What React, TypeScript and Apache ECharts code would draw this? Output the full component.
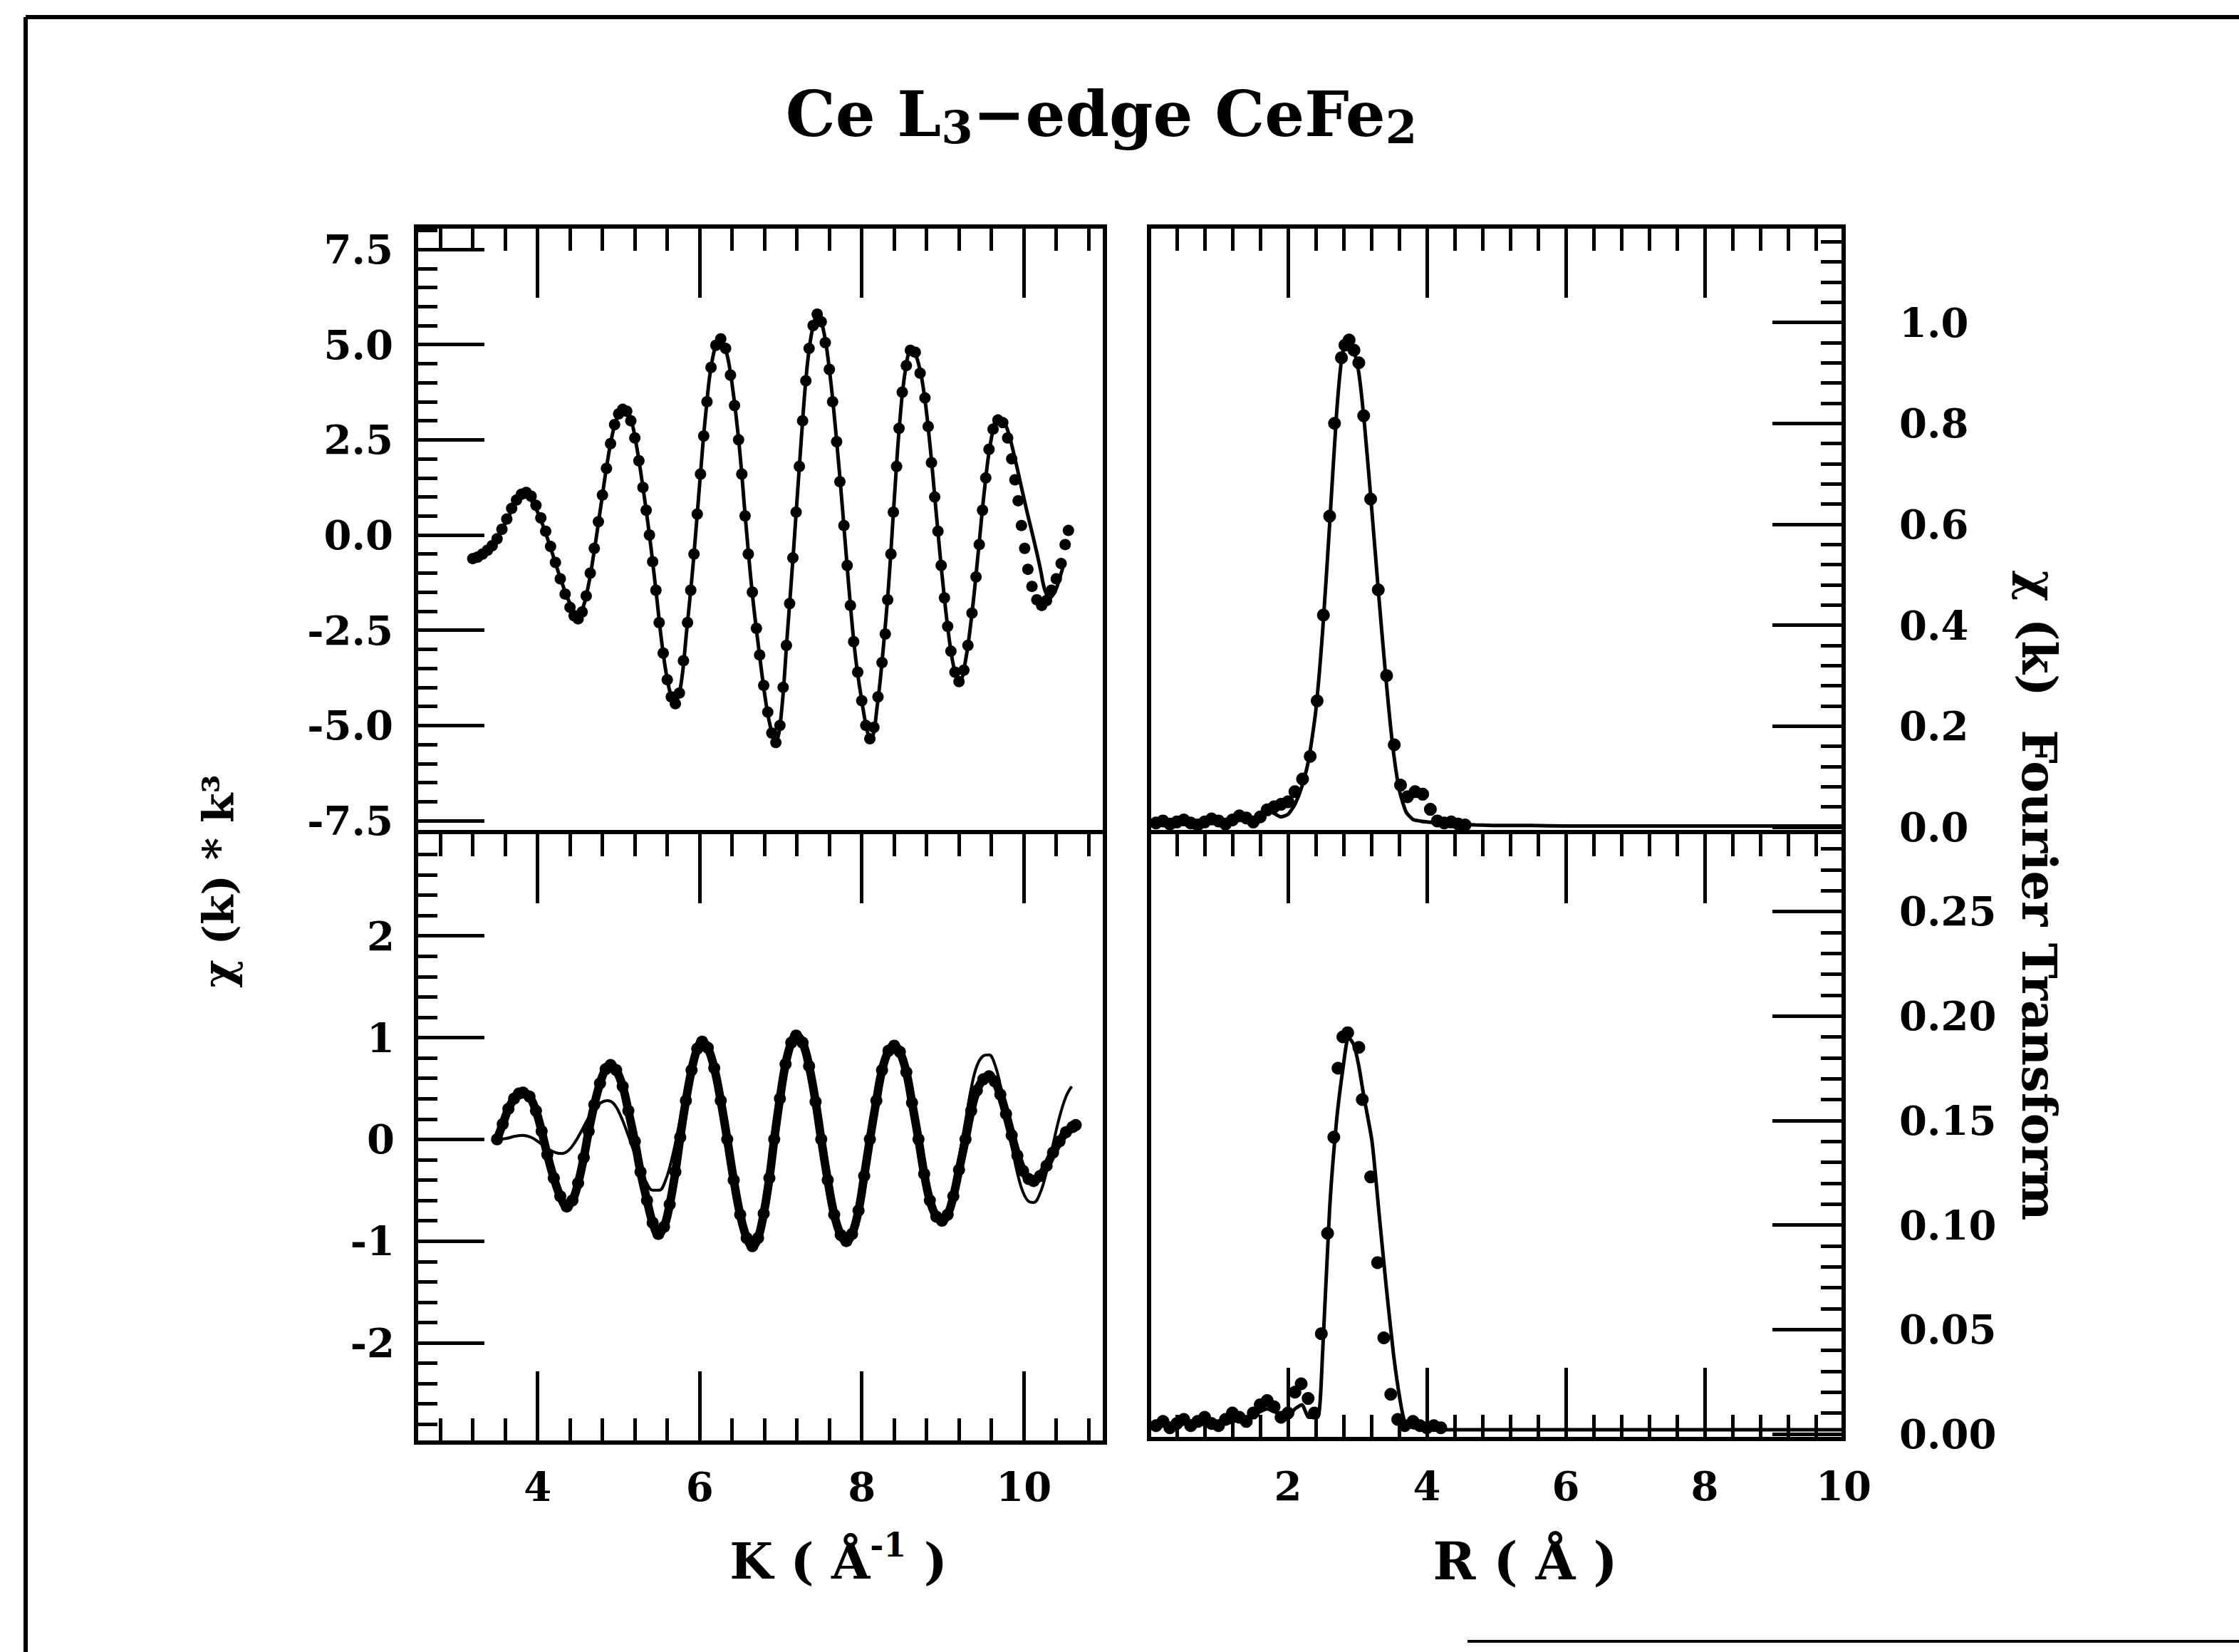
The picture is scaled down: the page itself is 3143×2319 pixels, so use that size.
import React, { useEffect, useRef } from 'react';
import * as echarts from 'echarts';

const W = 3143;
const H = 2319;
const FONT = 'DejaVu Serif';

// ---------- Upper-left: chi(k)*k^3 (dots = data, line = fit) ----------
const ulData: [number, number][] = [
  [3.2,-0.62],[3.26,-0.58],[3.32,-0.5],[3.38,-0.4],[3.44,-0.28],[3.5,-0.1],[3.56,0.15],[3.62,0.42],[3.68,0.7],[3.74,0.92],
  [3.8,1.07],[3.86,1.12],[3.92,1.02],[3.98,0.78],[4.04,0.45],[4.1,0.1],[4.16,-0.3],[4.22,-0.72],[4.28,-1.15],[4.34,-1.55],
  [4.4,-1.9],[4.45,-2.12],[4.5,-2.2],[4.55,-2.02],[4.6,-1.6],[4.65,-1.0],[4.7,-0.35],[4.75,0.35],[4.8,1.05],[4.85,1.75],
  [4.9,2.4],[4.95,2.9],[5.0,3.18],[5.05,3.3],[5.1,3.25],[5.15,3.0],[5.2,2.55],[5.25,1.95],[5.3,1.25],[5.34,0.65],
  [5.38,0.0],[5.42,-0.7],[5.46,-1.45],[5.5,-2.3],[5.55,-3.1],[5.6,-3.8],[5.65,-4.25],[5.7,-4.43],[5.75,-4.15],[5.8,-3.3],
  [5.85,-2.3],[5.89,-1.45],[5.93,-0.5],[5.97,0.55],[6.01,1.6],[6.05,2.6],[6.09,3.5],[6.14,4.4],[6.2,4.98],[6.26,5.15],
  [6.32,4.9],[6.38,4.2],[6.43,3.4],[6.48,2.5],[6.52,1.6],[6.56,0.5],[6.6,-0.5],[6.65,-1.5],[6.7,-2.45],[6.74,-3.15],
  [6.79,-3.95],[6.84,-4.65],[6.89,-5.2],[6.94,-5.45],[6.99,-5.0],[7.03,-4.0],[7.07,-2.9],[7.11,-1.8],[7.15,-0.6],[7.19,0.6],
  [7.23,1.8],[7.27,3.0],[7.31,4.05],[7.35,4.9],[7.4,5.5],[7.45,5.8],[7.5,5.6],[7.55,5.05],[7.6,4.35],[7.64,3.5],
  [7.69,2.45],[7.73,1.4],[7.78,0.25],[7.82,-0.8],[7.86,-1.85],[7.9,-2.8],[7.95,-3.6],[8.0,-4.35],[8.05,-5.0],[8.1,-5.35],
  [8.15,-5.05],[8.2,-4.25],[8.25,-3.35],[8.29,-2.6],[8.32,-1.7],[8.36,-0.5],[8.39,0.6],[8.43,1.8],[8.46,2.8],[8.5,3.75],
  [8.55,4.45],[8.6,4.85],[8.66,4.8],[8.72,4.25],[8.78,3.6],[8.82,2.85],[8.86,1.9],[8.9,1.0],[8.94,0.1],[8.98,-0.8],
  [9.02,-1.65],[9.06,-2.4],[9.1,-3.05],[9.15,-3.6],[9.2,-3.85],[9.26,-3.55],[9.31,-2.9],[9.36,-2.05],[9.41,-1.1],[9.45,-0.25],
  [9.49,0.65],[9.53,1.5],[9.57,2.25],[9.62,2.78],[9.68,3.02],[9.74,2.95],[9.8,2.55],[9.85,2.0],[9.89,1.45],[9.93,0.9],
  [9.97,0.25],[10.01,-0.35],[10.05,-0.9],[10.1,-1.35],[10.16,-1.7],[10.22,-1.85],[10.28,-1.72],[10.34,-1.45],[10.4,-1.15],[10.46,-0.75],
  [10.51,-0.25],[10.55,0.12],
];
const ulFit: [number, number][] = [
  [3.3,-0.45],[3.4,-0.3],[3.5,-0.08],[3.6,0.3],[3.7,0.72],[3.78,0.95],[3.86,1.0],[3.94,0.85],[4.02,0.5],[4.1,0.05],
  [4.2,-0.6],[4.3,-1.25],[4.4,-1.8],[4.48,-2.05],[4.55,-1.95],[4.62,-1.4],[4.7,-0.4],[4.78,0.75],[4.86,1.9],[4.94,2.8],
  [5.02,3.25],[5.08,3.3],[5.15,3.05],[5.22,2.35],[5.3,1.25],[5.38,0.0],[5.46,-1.45],[5.54,-2.95],[5.62,-4.0],[5.69,-4.4],
  [5.76,-4.05],[5.84,-2.5],[5.92,-0.75],[6.0,1.35],[6.08,3.3],[6.16,4.65],[6.25,5.12],[6.33,4.8],[6.41,3.8],[6.49,2.3],
  [6.57,0.3],[6.65,-1.55],[6.73,-3.0],[6.81,-4.3],[6.88,-5.1],[6.94,-5.4],[7.0,-4.85],[7.08,-2.65],[7.16,-0.35],[7.24,2.1],
  [7.32,4.3],[7.39,5.4],[7.45,5.75],[7.52,5.45],[7.6,4.35],[7.68,2.7],[7.76,0.75],[7.84,-1.35],[7.92,-3.15],[8.0,-4.35],
  [8.08,-5.25],[8.12,-5.3],[8.19,-4.5],[8.26,-3.1],[8.33,-1.35],[8.4,0.9],[8.47,3.0],[8.54,4.35],[8.61,4.85],[8.68,4.65],
  [8.76,3.85],[8.84,2.4],[8.92,0.55],[9.0,-1.25],[9.08,-2.75],[9.15,-3.6],[9.21,-3.82],[9.28,-3.3],[9.36,-2.05],[9.44,-0.4],
  [9.52,1.3],[9.6,2.55],[9.68,3.05],[9.74,3.0],[9.8,2.75],[9.88,2.1],[9.96,1.35],[10.04,0.6],[10.12,-0.1],[10.2,-0.85],
  [10.26,-1.45],[10.32,-1.65],[10.38,-1.5],[10.44,-1.15],[10.5,-0.7],
];

// ---------- Lower-left: back-transformed first shell ----------
const llData: [number, number][] = [
  [3.5,0.0],[3.57,0.15],[3.64,0.3],[3.71,0.4],[3.77,0.45],[3.82,0.46],[3.9,0.42],[3.98,0.28],[4.05,0.08],[4.12,-0.15],
  [4.2,-0.38],[4.28,-0.56],[4.36,-0.66],[4.43,-0.6],[4.5,-0.43],[4.57,-0.18],[4.63,0.08],[4.7,0.34],[4.77,0.55],[4.84,0.69],
  [4.9,0.73],[4.97,0.68],[5.05,0.52],[5.12,0.28],[5.2,-0.02],[5.27,-0.32],[5.35,-0.6],[5.42,-0.82],[5.49,-0.93],[5.56,-0.86],
  [5.63,-0.64],[5.7,-0.32],[5.76,0.02],[5.83,0.38],[5.9,0.68],[5.97,0.89],[6.03,0.96],[6.1,0.9],[6.18,0.7],[6.26,0.38],
  [6.34,0.0],[6.42,-0.4],[6.5,-0.74],[6.58,-0.97],[6.65,-1.05],[6.72,-0.97],[6.79,-0.73],[6.86,-0.38],[6.92,0.0],[6.99,0.4],
  [7.06,0.74],[7.13,0.95],[7.19,1.02],[7.27,0.95],[7.35,0.72],[7.43,0.37],[7.5,0.0],[7.58,-0.4],[7.66,-0.74],[7.74,-0.94],
  [7.81,-1.0],[7.88,-0.93],[7.96,-0.7],[8.03,-0.36],[8.1,0.0],[8.18,0.38],[8.25,0.68],[8.33,0.87],[8.4,0.92],[8.47,0.86],
  [8.55,0.66],[8.62,0.36],[8.7,0.0],[8.77,-0.34],[8.84,-0.6],[8.92,-0.76],[8.99,-0.8],[9.06,-0.74],[9.13,-0.56],[9.2,-0.3],
  [9.28,0.0],[9.35,0.28],[9.42,0.48],[9.5,0.59],[9.57,0.62],[9.64,0.57],[9.71,0.44],[9.78,0.25],[9.85,0.04],[9.92,-0.16],
  [9.99,-0.31],[10.06,-0.39],[10.12,-0.41],[10.2,-0.36],[10.28,-0.26],[10.36,-0.13],[10.44,-0.02],[10.52,0.07],[10.6,0.12],[10.64,0.14],
];
const llFit: [number, number][] = [
  [3.52,0.0],[3.62,0.01],[3.72,0.03],[3.82,0.04],[3.92,0.02],[4.02,-0.03],[4.12,-0.09],[4.22,-0.13],[4.3,-0.14],[4.38,-0.11],
  [4.46,-0.03],[4.54,0.08],[4.62,0.2],[4.7,0.3],[4.78,0.36],[4.86,0.38],[4.94,0.35],[5.02,0.24],[5.1,0.08],[5.18,-0.1],
  [5.26,-0.28],[5.34,-0.42],[5.42,-0.5],[5.5,-0.5],[5.58,-0.4],[5.66,-0.18],[5.74,0.12],[5.82,0.45],[5.9,0.74],[5.97,0.9],
  [6.03,0.95],[6.1,0.9],[6.18,0.7],[6.26,0.38],[6.34,0.0],[6.42,-0.4],[6.5,-0.74],[6.58,-0.97],[6.65,-1.05],[6.72,-0.97],
  [6.79,-0.73],[6.86,-0.38],[6.92,0.0],[6.99,0.4],[7.06,0.74],[7.13,0.95],[7.19,1.02],[7.27,0.95],[7.35,0.72],[7.43,0.37],
  [7.5,0.0],[7.58,-0.4],[7.66,-0.74],[7.74,-0.94],[7.81,-1.0],[7.88,-0.93],[7.96,-0.7],[8.03,-0.36],[8.1,0.0],[8.18,0.38],
  [8.25,0.68],[8.33,0.87],[8.4,0.92],[8.47,0.86],[8.55,0.66],[8.62,0.36],[8.7,0.0],[8.77,-0.34],[8.84,-0.6],[8.92,-0.76],
  [8.99,-0.8],[9.06,-0.72],[9.13,-0.5],[9.2,-0.18],[9.28,0.18],[9.35,0.5],[9.42,0.72],[9.5,0.82],[9.57,0.83],[9.64,0.74],
  [9.71,0.53],[9.78,0.24],[9.85,-0.06],[9.92,-0.33],[9.99,-0.52],[10.06,-0.61],[10.12,-0.62],[10.2,-0.53],[10.28,-0.32],[10.36,-0.05],
  [10.44,0.22],[10.52,0.42],[10.59,0.52],
];

// ---------- Upper-right: Fourier transform magnitude ----------
const urData: [number, number][] = [
  [0.1,0.008],[0.2,0.012],[0.3,0.006],[0.4,0.01],[0.5,0.014],[0.6,0.008],[0.7,0.004],[0.8,0.01],[0.9,0.016],[1.0,0.012],
  [1.1,0.006],[1.2,0.014],[1.3,0.022],[1.4,0.018],[1.5,0.01],[1.6,0.02],[1.7,0.034],[1.8,0.04],[1.9,0.045],[2.0,0.05],
  [2.1,0.07],[2.21,0.095],[2.32,0.14],[2.42,0.25],[2.51,0.42],[2.6,0.616],[2.67,0.8],[2.77,0.93],[2.82,0.955],[2.88,0.965],
  [2.95,0.945],[3.02,0.92],[3.09,0.815],[3.19,0.65],[3.3,0.47],[3.42,0.3],[3.53,0.163],[3.62,0.083],[3.72,0.06],[3.83,0.07],
  [3.94,0.065],[4.05,0.035],[4.15,0.012],[4.25,0.008],[4.35,0.01],[4.45,0.006],[4.55,0.004],
];
const urFit: [number, number][] = [
  [0.1,0.006],[0.25,0.01],[0.4,0.005],[0.55,0.012],[0.7,0.004],[0.85,0.012],[1.0,0.01],[1.15,0.008],[1.3,0.018],[1.45,0.012],
  [1.6,0.02],[1.75,0.03],[1.9,0.02],[2.0,0.025],[2.1,0.045],[2.2,0.08],[2.3,0.135],[2.4,0.23],[2.5,0.39],[2.6,0.6],
  [2.7,0.82],[2.78,0.935],[2.86,0.97],[2.94,0.95],[3.02,0.9],[3.1,0.8],[3.2,0.64],[3.3,0.47],[3.4,0.31],[3.5,0.17],
  [3.6,0.075],[3.7,0.03],[3.8,0.015],[3.9,0.012],[4.0,0.01],[4.2,0.008],[4.4,0.006],[4.7,0.004],[5.0,0.003],[5.5,0.003],
  [6.0,0.002],[6.5,0.002],[7.0,0.002],[7.5,0.002],[8.0,0.002],[8.5,0.002],[9.0,0.002],[9.5,0.002],[10.0,0.002],
];

// ---------- Lower-right: Fourier transform of filtered signal ----------
const lrData: [number, number][] = [
  [0.1,0.004],[0.2,0.006],[0.3,0.003],[0.4,0.005],[0.5,0.007],[0.6,0.004],[0.7,0.006],[0.8,0.008],[0.9,0.005],[1.0,0.004],
  [1.1,0.007],[1.2,0.01],[1.3,0.008],[1.4,0.006],[1.5,0.01],[1.6,0.014],[1.7,0.016],[1.8,0.013],[1.9,0.008],[2.0,0.01],
  [2.1,0.02],[2.19,0.024],[2.29,0.017],[2.38,0.01],[2.48,0.048],[2.57,0.096],[2.66,0.142],[2.72,0.175],[2.79,0.19],[2.86,0.192],
  [3.02,0.185],[3.07,0.16],[3.19,0.123],[3.29,0.082],[3.38,0.046],[3.48,0.019],[3.58,0.007],[3.68,0.004],[3.8,0.006],[3.9,0.004],
  [4.0,0.003],[4.1,0.004],[4.2,0.003],
];
const lrFit: [number, number][] = [
  [0.05,0.003],[0.2,0.004],[0.35,0.003],[0.5,0.005],[0.7,0.004],[0.9,0.006],[1.1,0.005],[1.3,0.007],[1.5,0.009],[1.7,0.012],
  [1.85,0.01],[2.0,0.008],[2.1,0.012],[2.2,0.014],[2.3,0.008],[2.43,0.008],[2.5,0.04],[2.6,0.108],[2.7,0.15],[2.8,0.177],
  [2.87,0.19],[2.95,0.186],[3.02,0.176],[3.09,0.162],[3.21,0.14],[3.31,0.106],[3.41,0.072],[3.52,0.038],[3.62,0.015],[3.69,0.005],
  [3.8,0.003],[4.2,0.002],[5,0.002],[6,0.002],[7,0.002],[8,0.002],[9,0.002],[10,0.002],
];

// ---------- Tick positions and labels ----------
const kMajor = [4, 6, 8, 10];
const kMinor = [2.8, 3.2, 3.6, 4.4, 4.8, 5.2, 5.6, 6.4, 6.8, 7.2, 7.6, 8.4, 8.8, 9.2, 9.6, 10.4, 10.8];
const rMajor = [2, 4, 6, 8];
const rLabels = [2, 4, 6, 8, 10];
const rMinor = [0.4, 0.8, 1.2, 1.6, 2.4, 2.8, 3.2, 3.6, 4.4, 4.8, 5.2, 5.6, 6.4, 6.8, 7.2, 7.6, 8.4, 8.8, 9.2, 9.6];
const ulYMajor = [-7.5, -5, -2.5, 0, 2.5, 5, 7.5];
const ulYMinor = [-7, -6.5, -6, -5.5, -4.5, -4, -3.5, -3, -2, -1.5, -1, -0.5, 0.5, 1, 1.5, 2, 3, 3.5, 4, 4.5, 5.5, 6, 6.5, 7, 8];
const llYMajor = [-2, -1, 0, 1, 2];
const llYMinor = [-2.8, -2.6, -2.4, -2.2, -1.8, -1.6, -1.4, -1.2, -0.8, -0.6, -0.4, -0.2, 0.2, 0.4, 0.6, 0.8, 1.2, 1.4, 1.6, 1.8, 2.2, 2.4, 2.6, 2.8];
const urYMajor = [0, 0.2, 0.4, 0.6, 0.8, 1.0];
const urYMinor = [0.04, 0.08, 0.12, 0.16, 0.24, 0.28, 0.32, 0.36, 0.44, 0.48, 0.52, 0.56, 0.64, 0.68, 0.72, 0.76, 0.84, 0.88, 0.92, 0.96, 1.04, 1.08, 1.12, 1.16];
const lrYMajor = [0, 0.05, 0.1, 0.15, 0.2, 0.25];
const lrYMinor = [0.01, 0.02, 0.03, 0.04, 0.06, 0.07, 0.08, 0.09, 0.11, 0.12, 0.13, 0.14, 0.16, 0.17, 0.18, 0.19, 0.21, 0.22, 0.23, 0.24, 0.26, 0.27, 0.28];

const TITLE = 'Ce L{s|3}−edge CeFe{s|2}';
const LEFT_NAME = 'χ (k) * k³';
const RIGHT_NAME = 'χ (k)  Fourier Transform';
const K_NAME = 'K ( Å{sup|-1} )';
const R_NAME = 'R ( Å )';

const labelStyle = { fontFamily: FONT, fontWeight: 'bold' as const, fontSize: 56, color: '#000' };

function axis(kind: 'x' | 'y', gridIndex: number, position: string, min: number, max: number,
  ticks: number[], len: number, labels?: number[], fmt?: (v: number) => string, margin = 36) {
  return {
    type: 'value', gridIndex, position, min, max,
    axisLine: { show: false, onZero: false },
    splitLine: { show: false },
    axisTick: { show: true, inside: true, length: len, customValues: ticks, lineStyle: { color: '#000', width: 5 } },
    axisLabel: labels
      ? { show: true, customValues: labels, margin, formatter: fmt, ...labelStyle }
      : { show: false },
  } as any;
}

export default function App() {
  const ref = useRef<HTMLDivElement>(null);
  useEffect(() => {
    const chart = echarts.init(ref.current!, null, { renderer: 'svg' });
    const G = {
      ul: { left: 584, top: 318, width: 967, height: 850 },
      ll: { left: 584, top: 1168, width: 967, height: 857 },
      ur: { left: 1613, top: 318, width: 975, height: 850 },
      lr: { left: 1613, top: 1168, width: 975, height: 852 },
    };
    const border = { show: true, borderColor: '#000', borderWidth: 6, backgroundColor: 'transparent' };
    const grid = [
      { ...G.ul, ...border }, { ...G.ul, show: false },
      { ...G.ll, ...border }, { ...G.ll, show: false },
      { ...G.ur, ...border }, { ...G.ur, show: false },
      { ...G.lr, ...border }, { ...G.lr, show: false },
    ];
    const kMin = 2.5, kMax = 11, rMin = 0, rMax = 10;
    const xAxis = [
      axis('x', 0, 'top', kMin, kMax, kMajor, 100),
      axis('x', 1, 'top', kMin, kMax, kMinor, 34),
      axis('x', 2, 'bottom', kMin, kMax, kMajor, 100, kMajor, (v) => String(v), 34),
      axis('x', 2, 'top', kMin, kMax, kMajor, 100),
      axis('x', 3, 'bottom', kMin, kMax, kMinor, 34),
      axis('x', 3, 'top', kMin, kMax, kMinor, 34),
      axis('x', 4, 'top', rMin, rMax, rMajor, 100),
      axis('x', 5, 'top', rMin, rMax, rMinor, 34),
      axis('x', 6, 'bottom', rMin, rMax, rMajor, 100, rLabels, (v) => String(v), 38),
      axis('x', 6, 'top', rMin, rMax, rMajor, 100),
      axis('x', 7, 'bottom', rMin, rMax, rMinor, 34),
      axis('x', 7, 'top', rMin, rMax, rMinor, 34),
    ];
    const yAxis = [
      axis('y', 0, 'left', -7.8, 8.1, ulYMajor, 96, ulYMajor, (v) => v.toFixed(1), 32),
      axis('y', 1, 'left', -7.8, 8.1, ulYMinor, 30),
      axis('y', 2, 'left', -2.98, 3.02, llYMajor, 96, llYMajor, (v) => String(v), 30),
      axis('y', 3, 'left', -2.98, 3.02, llYMinor, 30),
      axis('y', 4, 'right', -0.01, 1.19, urYMajor, 100, urYMajor, (v) => v.toFixed(1), 78),
      axis('y', 5, 'right', -0.01, 1.19, urYMinor, 32),
      axis('y', 6, 'right', -0.0024, 0.288, lrYMajor, 100, lrYMajor, (v) => v.toFixed(2), 78),
      axis('y', 7, 'right', -0.0024, 0.288, lrYMinor, 32),
    ];
    const dots = (name: string, xi: number, yi: number, data: [number, number][], size: number) => ({
      name, type: 'scatter', xAxisIndex: xi, yAxisIndex: yi, data, symbol: 'circle', symbolSize: size,
      itemStyle: { color: '#000', opacity: 1 }, z: 2, silent: true,
    });
    const line = (name: string, xi: number, yi: number, data: [number, number][], width: number, smooth: number) => ({
      name, type: 'line', xAxisIndex: xi, yAxisIndex: yi, data, showSymbol: false, smooth,
      lineStyle: { color: '#000', width }, z: 3, silent: true,
    });
    const series = [
      dots('χ(k)k³ data', 0, 0, ulData, 16),
      line('χ(k)k³ fit', 0, 0, ulFit, 5, 0.4),
      {
        name: 'filtered data', type: 'line', xAxisIndex: 2, yAxisIndex: 2, data: llData, smooth: 0.4,
        showSymbol: true, symbol: 'circle', symbolSize: 17, itemStyle: { color: '#000', opacity: 1 },
        lineStyle: { color: '#000', width: 12 }, z: 2, silent: true,
      },
      line('filtered fit', 2, 2, llFit, 4, 0.4),
      dots('FT data', 6, 4, urData, 18),
      line('FT fit', 6, 4, urFit, 5, 0.2),
      dots('FT filtered data', 8, 6, lrData, 18),
      line('FT filtered fit', 8, 6, lrFit, 5, 0.2),
    ];
    const txt = (x: number, y: number, text: string, size: number, rotation = 0) => ({
      type: 'text', x, y, rotation, silent: true,
      style: {
        text, fill: '#000', fontFamily: FONT, fontWeight: 'bold', fontSize: size,
        align: 'center', verticalAlign: 'middle',
      },
    });
    const option = {
      animation: false,
      backgroundColor: '#fff',
      grid, xAxis, yAxis, series,
      graphic: [
        { type: 'line', shape: { x1: 36, y1: 24, x2: W, y2: 24 }, style: { stroke: '#000', lineWidth: 6 }, silent: true },
        { type: 'line', shape: { x1: 36, y1: 24, x2: 36, y2: H }, style: { stroke: '#000', lineWidth: 6 }, silent: true },
        { type: 'line', shape: { x1: 2060, y1: 2304, x2: W, y2: 2304 }, style: { stroke: '#000', lineWidth: 4 }, silent: true },
        {
          type: 'text', x: 1546, y: 160, silent: true,
          style: {
            text: TITLE, fill: '#000', fontFamily: FONT, fontWeight: 'bold', fontSize: 88,
            align: 'center', verticalAlign: 'middle', lineHeight: 100,
            rich: { s: { fontFamily: FONT, fontWeight: 'bold', fontSize: 64, lineHeight: 56, verticalAlign: 'bottom', fill: '#000' } },
          },
        },
        txt(307, 1237, LEFT_NAME, 60, Math.PI / 2),
        txt(2862, 1257, RIGHT_NAME, 67, -Math.PI / 2),
        {
          type: 'text', x: 1177, y: 2191, silent: true,
          style: {
            text: K_NAME, fill: '#000', fontFamily: FONT, fontWeight: 'bold', fontSize: 70,
            align: 'center', verticalAlign: 'middle', lineHeight: 90,
            rich: { sup: { fontFamily: FONT, fontWeight: 'bold', fontSize: 46, lineHeight: 46, verticalAlign: 'top', fill: '#000' } },
          },
        },
        txt(2141, 2191, R_NAME, 72),
      ],
    };
    chart.setOption(option as any);
    return () => chart.dispose();
  }, []);
  return (
    <div
      ref={ref}
      style={{ position: 'fixed', left: 0, top: 0, width: W, height: H, background: '#fff' }}
    />
  );
}
